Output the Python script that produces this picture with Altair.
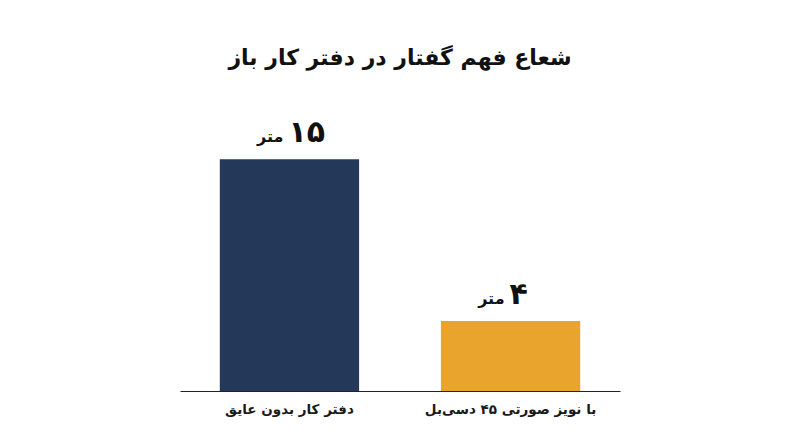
import altair as alt
import pandas as pd

categories = ["دفتر کار بدون عایق", "با نویز صورتی ۴۵ دسی‌بل"]
values = [15, 4]
value_labels = ["۱۵", "۴"]
unit = "متر"
colors = ["#243859", "#E9A42D"]
title_text = "شعاع فهم گفتار در دفتر کار باز"

df = pd.DataFrame({
    "category": categories,
    "value": values,
    "num": value_labels,
    "unit": [unit] * len(categories),
    "color": colors,
})

FONT = "DejaVu Sans"
W, H = 440, 291
Y_MIN = -0.762

x_enc = alt.X("category:N", sort=categories,
              scale=alt.Scale(paddingInner=0.37, paddingOuter=0.18),
              axis=alt.Axis(title=None, labelAngle=0, ticks=False, domain=True,
                            domainColor="#222222", domainWidth=1, labelLimit=400,
                            labelFont=FONT, labelFontSize=13.5, labelFontWeight="bold",
                            labelColor="#1a1a1a", labelPadding=11))
y_scale = alt.Scale(domain=[Y_MIN, 19.03], nice=False, zero=False)

base = alt.Chart(df)

bars = base.mark_bar().encode(
    x=x_enc,
    y=alt.Y("value:Q", scale=y_scale, axis=None),
    y2=alt.Y2(datum=Y_MIN),
    color=alt.Color("color:N", scale=None, legend=None),
)

nums = base.mark_text(align="left", baseline="alphabetic", dx=-1, dy=-17,
                      font=FONT, fontSize=30, fontWeight="bold", color="#111111").encode(
    x=alt.X("category:N", sort=categories),
    y=alt.Y("value:Q", scale=y_scale),
    text="num:N",
)

units = base.mark_text(align="right", baseline="alphabetic", dx=-6, dy=-17,
                       font=FONT, fontSize=16, fontWeight="bold", color="#111111").encode(
    x=alt.X("category:N", sort=categories),
    y=alt.Y("value:Q", scale=y_scale),
    text="unit:N",
)

chart = alt.layer(bars, nums, units).properties(
    width=W, height=H,
    background="white",
    title=alt.TitleParams(title_text, font=FONT, fontSize=22, fontWeight="bold",
                          color="#111111", anchor="middle", offset=30),
    autosize=alt.AutoSizeParams(type="none"),
    padding={"left": 172, "top": 92, "right": 172, "bottom": 48},
).configure_view(stroke="transparent", strokeWidth=0)

chart.save("out.html", embed_options={"renderer": "svg", "actions": False})
